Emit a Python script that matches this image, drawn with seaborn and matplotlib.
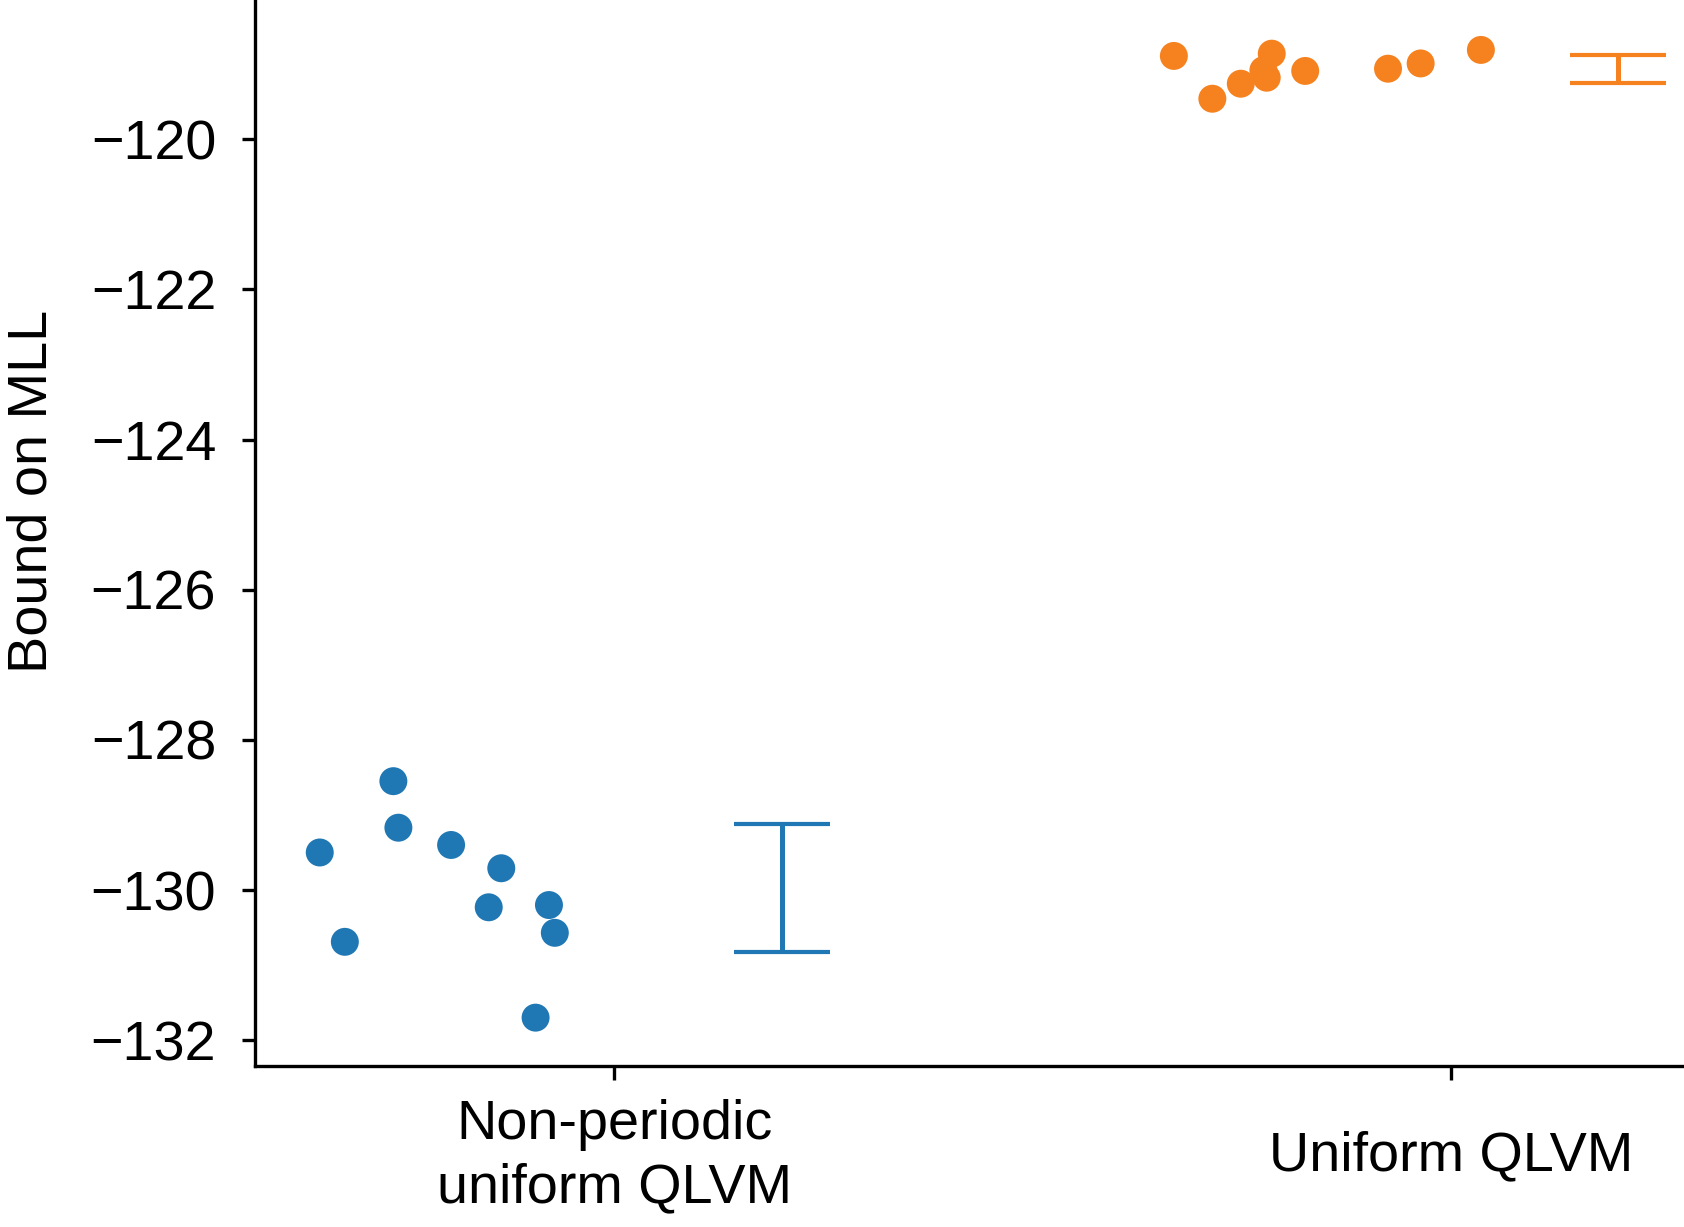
import numpy as np
import pandas as pd
import matplotlib
matplotlib.use('Agg')
import matplotlib.pyplot as plt
import seaborn as sns

models = ['Non-periodic\nuniform QLVM', 'Uniform QLVM']
colors = ['#1f77b4', '#f5821f']

# bound on the marginal log-likelihood, one value per run
nonperiodic_mll = [-128.55, -129.17, -129.50, -129.40, -129.71,
                   -130.23, -130.20, -130.57, -130.69, -131.70]
uniform_mll = [-118.89, -119.46, -119.26, -118.86, -119.08,
               -119.18, -119.09, -119.06, -118.99, -118.81]

# horizontal jitter of each run
nonperiodic_jitter = [-0.264, -0.258, -0.352, -0.195, -0.135,
                      -0.150, -0.078, -0.071, -0.322, -0.094]
uniform_jitter = [-0.331, -0.285, -0.251, -0.214, -0.224,
                  -0.220, -0.174, -0.075, -0.036, 0.036]

all_mll = [nonperiodic_mll, uniform_mll]
all_jitter = [nonperiodic_jitter, uniform_jitter]

rows = []
for i, (vals, jit) in enumerate(zip(all_mll, all_jitter)):
    for v, j in zip(vals, jit):
        rows.append({'model': models[i], 'x': i + j, 'bound': v})
df = pd.DataFrame(rows)

sns.set_style('ticks', {'axes.edgecolor': 'black', 'text.color': 'black',
                        'axes.labelcolor': 'black', 'xtick.color': 'black',
                        'ytick.color': 'black'})
plt.rcParams['font.family'] = ['Liberation Sans', 'DejaVu Sans']
plt.rcParams['axes.linewidth'] = 0.8

fig = plt.figure(figsize=(1685 / 300, 1227 / 300), dpi=300)
ax = fig.add_axes([254.5 / 1685, 161 / 1227, 1 - 254.5 / 1685, 1 - 161 / 1227])

sns.scatterplot(data=df, x='x', y='bound', hue='model', palette=colors,
                s=45, linewidth=0, legend=False, ax=ax)

# mean +/- std next to each group
for i, vals in enumerate(all_mll):
    ax.errorbar(i + 0.2, np.mean(vals), yerr=np.std(vals), fmt='none',
                ecolor=colors[i], elinewidth=1.2, capsize=11.6, capthick=1.0)

ax.set_xlim(-0.43, 1.28)
ax.set_ylim(-132.344, -118.145)
ax.set_yticks([-132, -130, -128, -126, -124, -122, -120])
ax.set_xticks([0, 1])
ax.set_xticklabels(models, va='center', fontsize=13.4, linespacing=1.27)
ax.tick_params(axis='y', labelsize=13.4, length=3.2, width=0.8, pad=6.0)
ax.tick_params(axis='x', length=3.4, width=0.8, pad=18.4)
ax.set_xlabel('')
ax.set_ylabel('Bound on MLL', fontsize=13.4)
ax.yaxis.set_label_coords(-0.137, 0.539)
sns.despine(ax=ax)

fig.savefig('out.png', dpi=300)
